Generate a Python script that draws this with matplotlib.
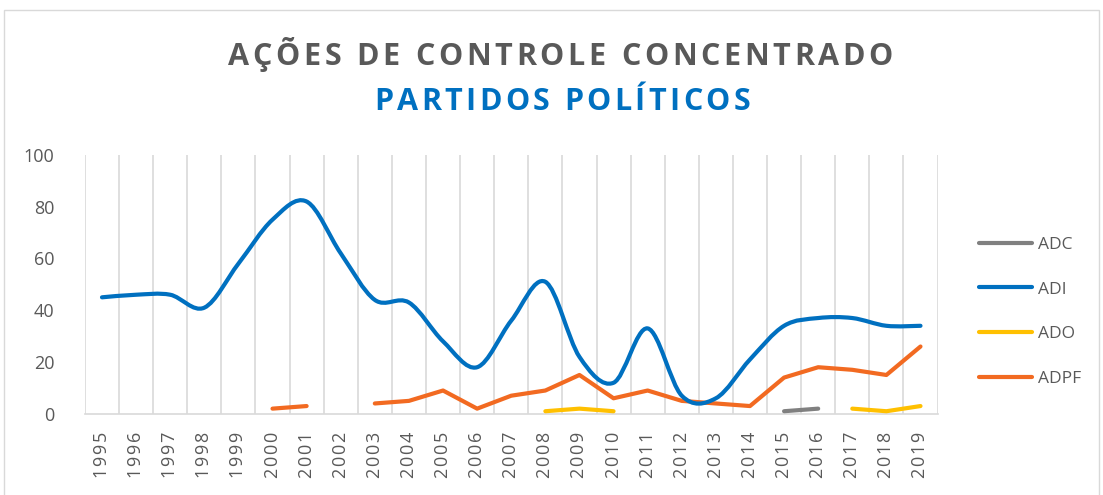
import matplotlib.pyplot as plt
import numpy as np
from matplotlib.path import Path
from matplotlib.patches import PathPatch, Rectangle
from matplotlib.lines import Line2D
from matplotlib.font_manager import FontProperties

plt.rcParams['font.family'] = ['Open Sans', 'DejaVu Sans']

anos = [str(a) for a in range(1995, 2020)]
adc = [None] * 20 + [1, 2, None, None, None]
adi = [45, 46, 46, 41, 58, 75, 82, 62, 44, 43, 28, 18, 36, 51, 22, 12, 33, 7, 6, 21, 34, 37, 37, 34, 34]
ado = [None] * 13 + [1, 2, 1] + [None] * 6 + [2, 1, 3]
adpf = [None] * 5 + [2, 3, None, 4, 5, 9, 2, 7, 9, 15, 6, 9, 5, 4, 3, 14, 18, 17, 15, 26]

cores = {'ADC': '#808080', 'ADI': '#0070C0', 'ADO': '#FFC000', 'ADPF': '#F26A21'}
texto = '#595959'


def segmentos(vals):
    # divide a série onde faltam valores
    seg, atual = [], []
    for i, v in enumerate(vals):
        if v is None:
            if atual:
                seg.append(atual)
            atual = []
        else:
            atual.append((i, v))
    if atual:
        seg.append(atual)
    return seg


def curva_suave(ax, pts, cor):
    # linha suavizada como no Excel (Bezier Catmull-Rom)
    p = np.array(pts, dtype=float)
    verts = [p[0]]
    codes = [Path.MOVETO]
    n = len(p)
    for i in range(n - 1):
        p0 = p[i - 1] if i > 0 else p[i]
        p3 = p[i + 2] if i + 2 < n else p[i + 1]
        c1 = p[i] + (p[i + 1] - p0) / 6
        c2 = p[i + 1] - (p3 - p[i]) / 6
        verts += [c1, c2, p[i + 1]]
        codes += [Path.CURVE4] * 3
    patch = PathPatch(Path(verts, codes), facecolor='none', edgecolor=cor,
                      lw=3, capstyle='round', joinstyle='round', zorder=3)
    ax.add_patch(patch)


def texto_espacado(fig, s, xc_px, yb, largura_px, **kw):
    # título com espaçamento entre letras (como no Excel)
    r = fig.canvas.get_renderer()
    prop = FontProperties(family=plt.rcParams['font.family'], size=kw['fontsize'],
                          weight=kw.get('fontweight', 'normal'))
    ws = [r.get_text_width_height_descent(c, prop, ismath=False)[0] for c in s]
    extra = (largura_px - sum(ws)) / (len(s) - 1)
    W = fig.bbox.width
    x = xc_px - largura_px / 2
    for c, w in zip(s, ws):
        fig.text(x / W, yb, c, ha='left', va='baseline', **kw)
        x += w + extra


fig = plt.figure(figsize=(11.03, 4.95), dpi=100)
fig.patches.append(Rectangle((0.004, -0.01), 0.992, 0.99, transform=fig.transFigure,
                             facecolor='none', edgecolor='#D9D9D9', lw=1))

ax = fig.add_axes([0.077, 0.164, 0.773, 0.523])
x = np.arange(len(anos))

for nome, vals in [('ADC', adc), ('ADO', ado), ('ADPF', adpf)]:
    for s in segmentos(vals):
        xs, ys = zip(*s)
        ax.plot(xs, ys, color=cores[nome], lw=3, solid_capstyle='round',
                solid_joinstyle='round', zorder=3)
curva_suave(ax, list(zip(x, adi)), cores['ADI'])

ax.set_xlim(-0.5, len(anos) - 0.5)
ax.set_ylim(0, 100)
ax.set_yticks([0, 20, 40, 60, 80, 100])
ax.set_xticks(x)
ax.set_xticklabels(['\u200a'.join(a) for a in anos], rotation=90)
ax.set_xticks(np.arange(-0.5, len(anos), 1), minor=True)
ax.grid(True, which='minor', axis='x', color='#D9D9D9', lw=1.2)
ax.tick_params(axis='both', which='both', length=0, labelsize=13, colors=texto)
ax.tick_params(axis='y', pad=22)
ax.tick_params(axis='x', pad=13)
for lado in ['top', 'right', 'left']:
    ax.spines[lado].set_visible(False)
ax.spines['bottom'].set_color('#D9D9D9')
ax.spines['bottom'].set_linewidth(1.2)

texto_espacado(fig, 'AÇÕES DE CONTROLE CONCENTRADO', 560.5, 1 - 65 / 495, 665,
               fontsize=22, fontweight='bold', color=texto)
texto_espacado(fig, 'PARTIDOS POLÍTICOS', 562, 1 - 110 / 495, 376,
               fontsize=22, fontweight='bold', color='#0070C0')

handles = [Line2D([], [], color=cores[n], lw=3, solid_capstyle='round') for n in cores]
leg = fig.legend(handles, list(cores.keys()), loc='center left', bbox_to_anchor=(0.873, 0.37),
                 frameon=False, fontsize=12.5, handlelength=3.1, handletextpad=0.3,
                 labelspacing=1.65)
for t in leg.get_texts():
    t.set_color(texto)

fig.savefig('out.png', dpi=100)
